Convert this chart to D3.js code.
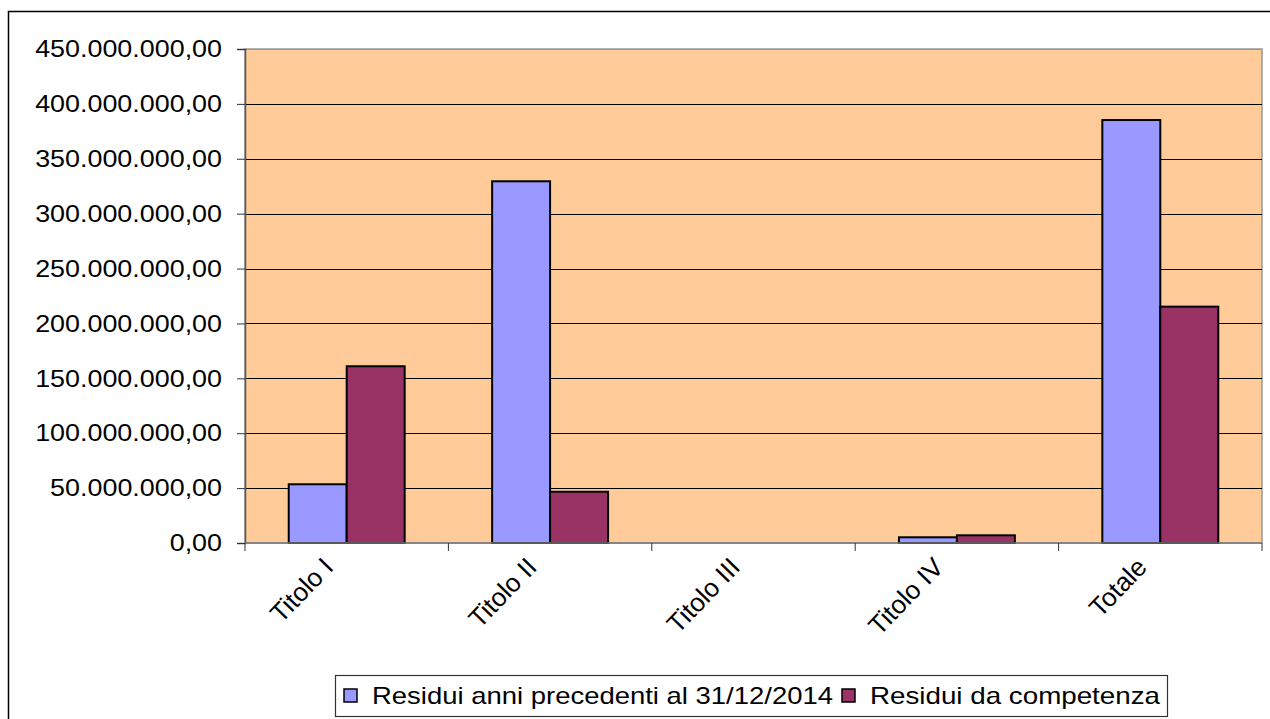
<!DOCTYPE html>
<html><head><meta charset="utf-8">
<script src="https://cdn.jsdelivr.net/npm/d3@7"></script>
<style>
html,body{margin:0;padding:0;background:#fff;}
svg{display:block;font-family:"Liberation Sans",Arial,sans-serif;}
</style></head>
<body>
<svg id="c" width="1270" height="719"></svg>
<script>
const categories = ["Titolo I","Titolo II","Titolo III","Titolo IV","Totale"];
const seriesNames = ["Residui anni precedenti al 31/12/2014","Residui da competenza"];
const residuiPrecedenti = [53500000, 329500000, 0, 5200000, 385300000];
const residuiCompetenza = [161000000, 46700000, 0, 7000000, 215300000];
const yTicks = [0,50000000,100000000,150000000,200000000,250000000,300000000,350000000,400000000,450000000];
const colors = ["#9999FF","#993366"];

const svg = d3.select("#c");
const L = 245, R = 1262, T = 49, B = 543;
const SX = 1.12; // horizontal stretch seen in the reference text

// outer border
svg.append("rect").attr("x",8.5).attr("y",11.5).attr("width",1300).attr("height",800)
  .attr("fill","#fff").attr("stroke","#000").attr("stroke-width",1.5);

// plot background
svg.append("rect").attr("x",L).attr("y",T).attr("width",R-L).attr("height",B-T)
  .attr("fill","#FFCC99").attr("stroke","#999").attr("stroke-width",1.5);

const x = d3.scaleBand().domain(categories).range([L,R]).paddingInner(0.43).paddingOuter(0.215);
const xs = d3.scaleBand().domain([0,1]).range([0,x.bandwidth()]);
const y = d3.scaleLinear().domain([0,450000000]).range([B,T]);

const fmt = v => {
  const s = d3.format(",.2f")(v);
  return s.replace(/,/g,"#").replace(".",",").replace(/#/g,".");
};

// gridlines
svg.append("g").selectAll("line").data(yTicks.filter(d=>d>0)).join("line")
  .attr("x1",L).attr("x2",R).attr("y1",d=>Math.round(y(d))+0.5).attr("y2",d=>Math.round(y(d))+0.5)
  .attr("stroke",d=>d===450000000?"#999":"#000").attr("stroke-width",1);

// bars
const series = [residuiPrecedenti, residuiCompetenza];
const g = svg.append("g");
categories.forEach((c,i)=>{
  series.forEach((s,j)=>{
    if (s[i] <= 0) return;
    g.append("rect")
      .attr("x", x(c)+xs(j)).attr("width", xs.bandwidth())
      .attr("y", y(s[i])).attr("height", B - y(s[i]))
      .attr("fill", colors[j]).attr("stroke","#000").attr("stroke-width",2);
  });
});

// y axis
const yAxis = d3.axisLeft(y).tickValues(yTicks).tickFormat(fmt).tickSize(8).tickPadding(15);
const ya = svg.append("g").attr("transform",`translate(${L},0)`).call(yAxis);
ya.select(".domain").attr("stroke","#555").attr("stroke-width",1.5);
ya.selectAll(".tick line").attr("stroke","#333");
ya.selectAll("text").attr("font-size","24px").attr("fill","#000").attr("font-family","Liberation Sans, Arial, sans-serif")
  .each(function(){ const w=this.getComputedTextLength(); d3.select(this).attr("textLength",w*SX).attr("lengthAdjust","spacingAndGlyphs"); });

// x axis
const step = x.step();
const bounds = d3.range(categories.length+1).map(i=>L+i*step);
svg.append("line").attr("x1",L).attr("x2",R).attr("y1",B).attr("y2",B).attr("stroke","#777").attr("stroke-width",1.5);
svg.append("g").selectAll("line").data(bounds).join("line")
  .attr("x1",d=>d).attr("x2",d=>d).attr("y1",B).attr("y2",B+8).attr("stroke","#333").attr("stroke-width",1);

svg.append("g").selectAll("text").data(categories).join("text")
  .attr("transform",d=>`translate(${x(d)+x.bandwidth()/2-25},${B+13}) rotate(-46)`)
  .attr("text-anchor","end").attr("dy","0.7em")
  .attr("font-size","26px").attr("fill","#000").text(d=>d);

// legend
const lg = svg.append("g");
lg.append("rect").attr("x",335.5).attr("y",675.5).attr("width",832).attr("height",41)
  .attr("fill","#fff").attr("stroke","#333").attr("stroke-width",1.2);
const items = [{x:344, tx:372, len:461},{x:842, tx:870, len:290}];
seriesNames.forEach((n,j)=>{
  lg.append("rect").attr("x",items[j].x).attr("y",689).attr("width",13).attr("height",13)
    .attr("fill",colors[j]).attr("stroke","#000").attr("stroke-width",1.5);
  lg.append("text").attr("x",items[j].tx).attr("y",704).attr("font-size","24px").attr("fill","#000")
    .attr("textLength",items[j].len).attr("lengthAdjust","spacingAndGlyphs").text(n);
});
</script>
</body></html>
